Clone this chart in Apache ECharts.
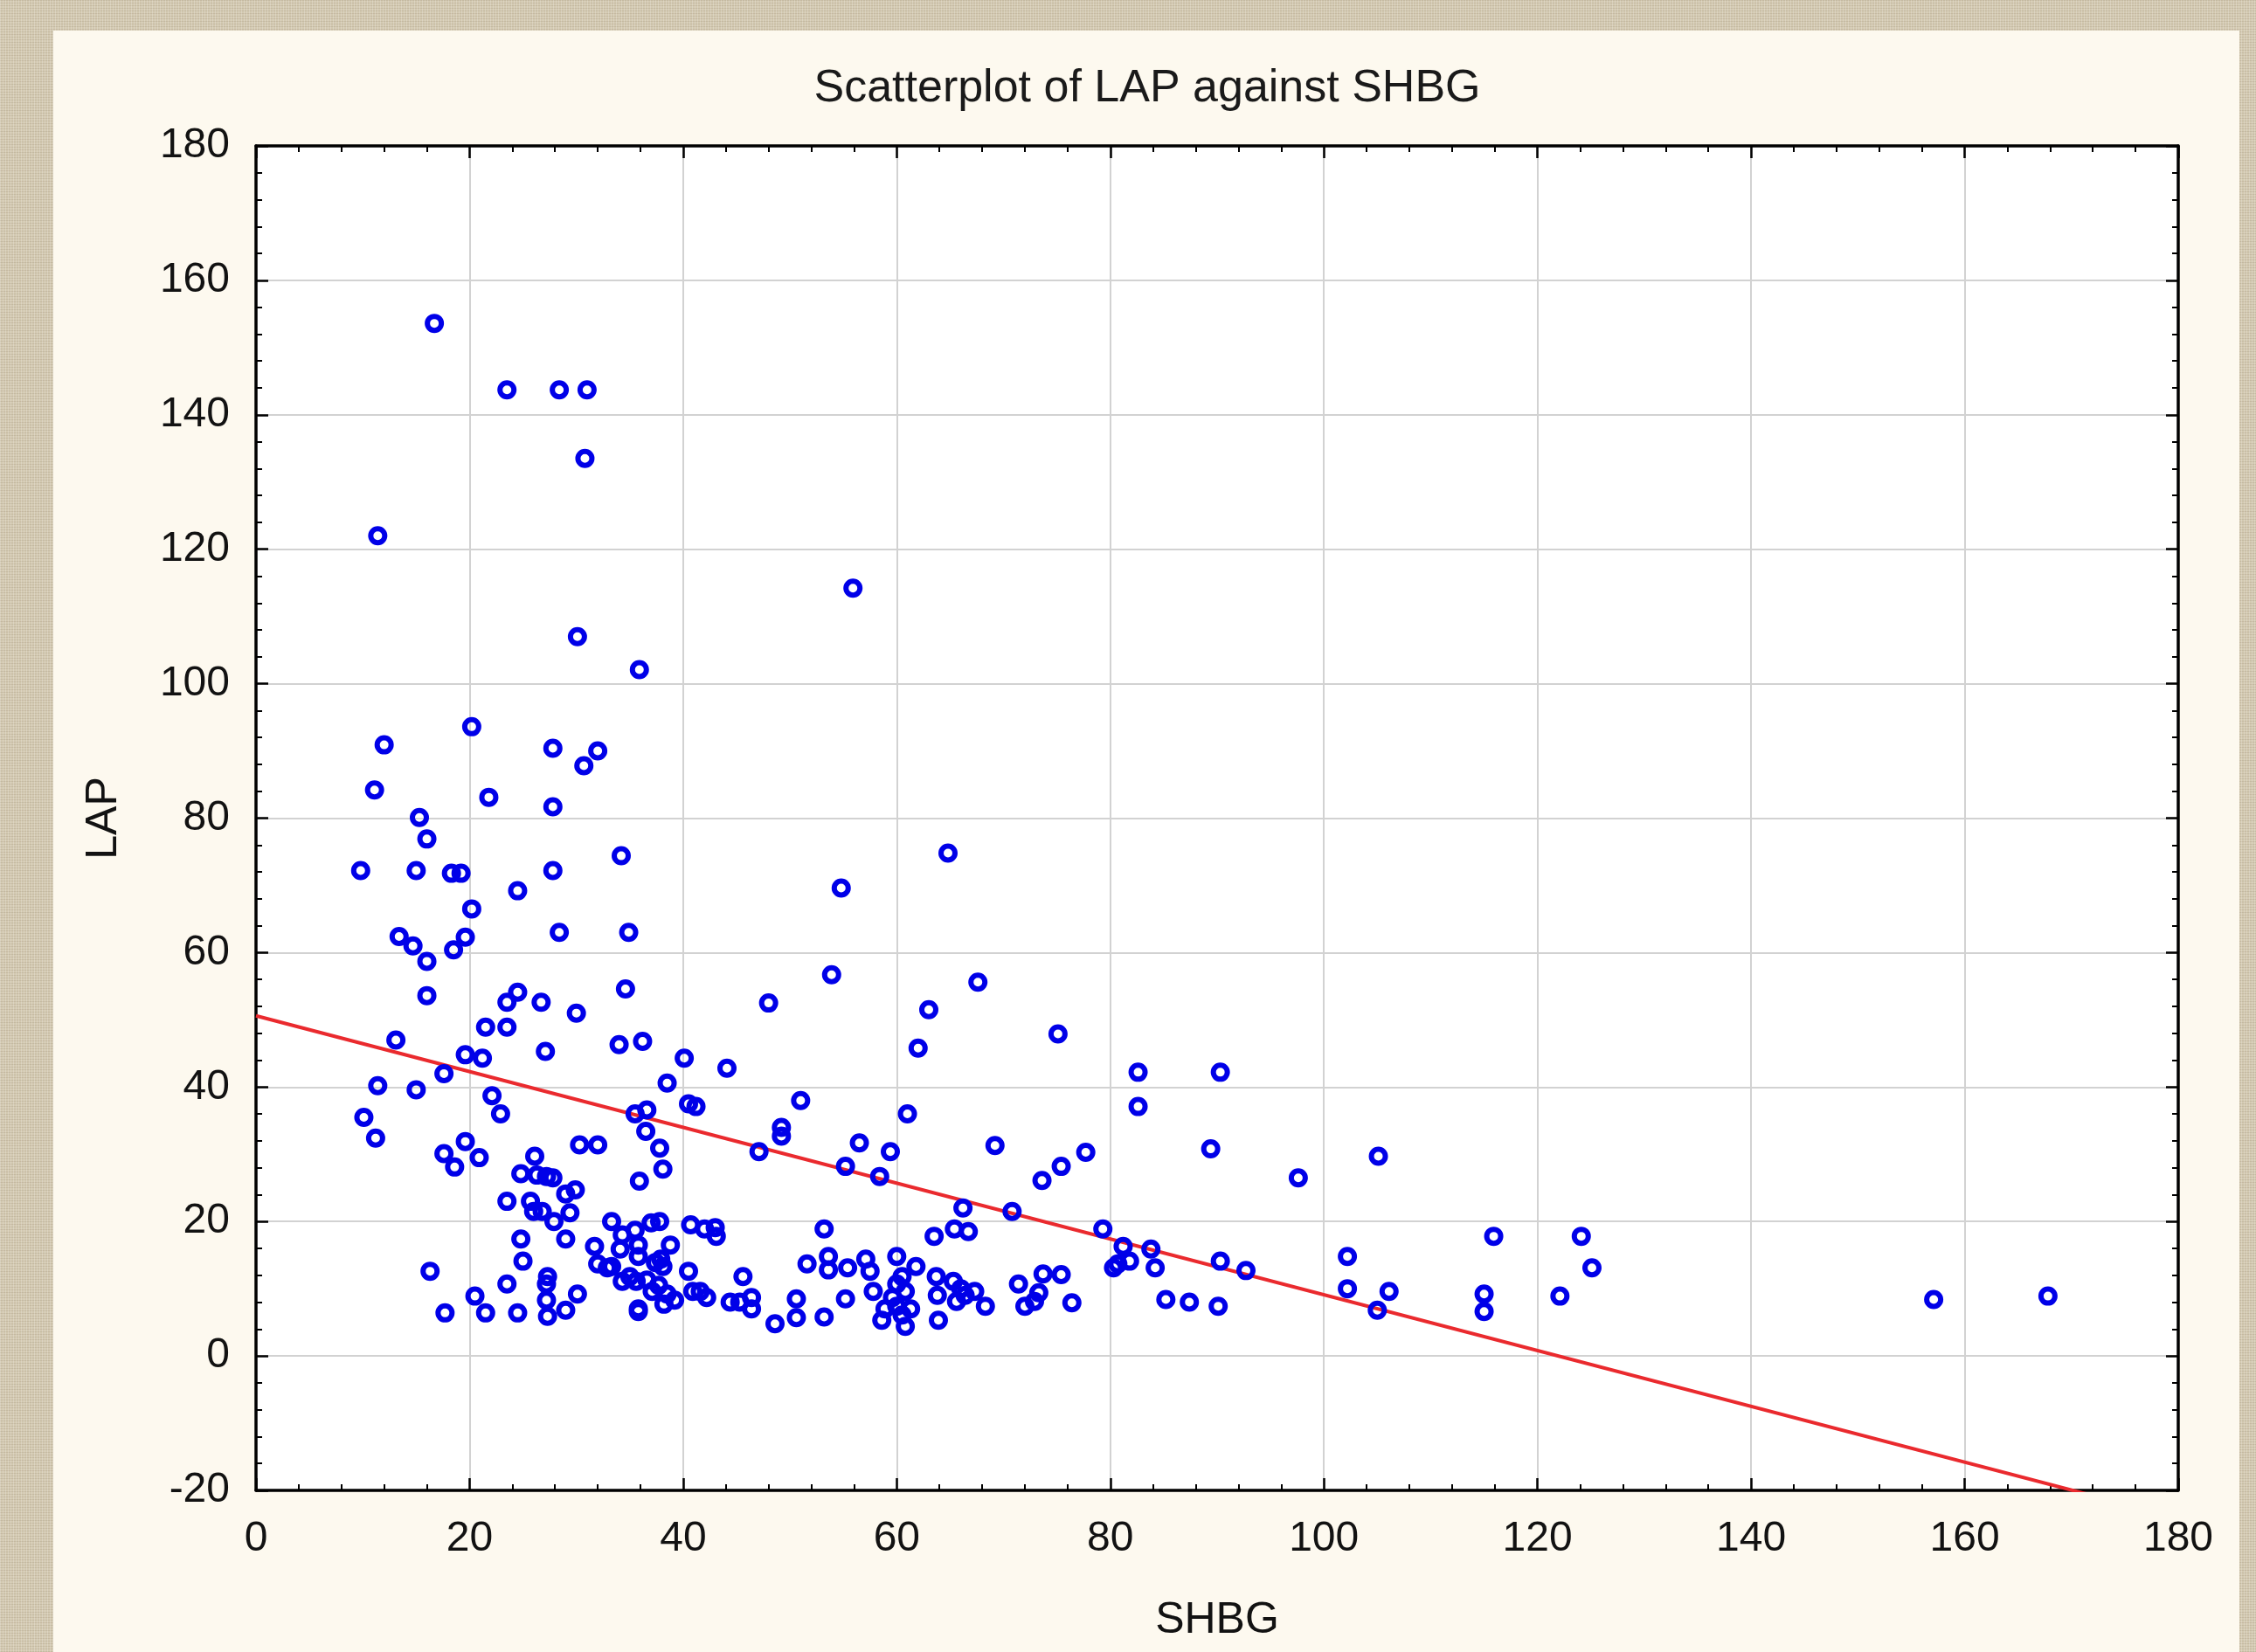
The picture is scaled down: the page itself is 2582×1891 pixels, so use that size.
<!DOCTYPE html>
<html>
<head>
<meta charset="utf-8">
<script src="https://cdn.jsdelivr.net/npm/echarts@6/dist/echarts.min.js"></script>
<style>
html,body{margin:0;padding:0;width:2582px;height:1891px;overflow:hidden;}
body{
  background-color:#d3c9b1;
  background-image:
    repeating-linear-gradient(90deg, rgba(255,255,255,0.22) 0 1px, rgba(0,0,0,0) 1px 3px),
    repeating-linear-gradient(0deg, rgba(110,90,60,0.14) 0 1px, rgba(0,0,0,0) 1px 3px);
}
#panel{position:absolute;left:61px;top:35px;width:2502px;height:1856px;background:#fdf9ef;}
#chart{position:absolute;left:0;top:0;width:2582px;height:1891px;}
</style>
</head>
<body>
<div id="panel"></div>
<div id="chart"></div>
<script>
const titleText = 'Scatterplot of LAP against SHBG';
const xName = 'SHBG';
const yName = 'LAP';
const xTicks = [0, 20, 40, 60, 80, 100, 120, 140, 160, 180];
const yTicks = [-20, 0, 20, 40, 60, 80, 100, 120, 140, 160, 180];

const shbg = [
  16.7, 23.5, 28.4, 31.0, 30.8, 11.4, 55.9, 30.1, 35.9,
  20.2, 12.0, 27.8, 32.0, 30.7, 11.1, 21.8, 27.8, 15.3, 16.0, 34.2, 9.8, 15.0, 18.3, 19.2, 27.8, 24.5, 20.2, 28.4, 34.9, 13.4, 14.7, 19.6, 18.5, 54.8, 64.8,
  16.0, 16.0, 13.1, 24.5, 23.5, 26.7, 30.0, 34.6, 21.5, 23.5, 19.6, 21.2, 27.1, 34.0, 36.2, 40.1, 17.6, 11.4, 15.0, 22.1, 22.9, 38.5, 40.5, 41.2, 10.1, 11.2, 35.5, 36.6, 36.5, 37.8, 30.3, 32.0, 19.6, 17.6, 20.9, 26.1,
  18.6, 38.1, 35.9, 24.8, 26.3, 27.2, 27.8, 23.5, 25.7, 26.0, 26.8, 27.9, 29.0, 29.9, 29.4, 29.0, 24.8, 25.0, 16.3, 23.5, 20.5, 21.5, 17.7, 24.5, 27.3, 27.2, 27.2, 27.3, 29.0, 30.1,
  33.3, 31.7, 32.0, 32.9, 34.3, 34.1, 34.3, 35.5, 35.8, 35.8, 35.6, 37.0, 37.8, 37.4, 38.1, 38.8, 37.7, 38.5, 39.2, 35.8, 35.8, 40.5, 40.9, 40.7, 37.9, 37.1, 38.2, 35.0, 36.6, 33.3,
  53.9, 48.0, 67.6, 63.0, 62.0, 44.1, 51.0, 61.0, 49.2, 49.2, 47.1, 56.5, 59.4, 69.2, 55.2,
  58.4, 73.6, 66.2, 70.8, 63.5, 65.4, 66.7, 53.2, 42.0, 43.0, 43.1, 41.6, 42.2, 45.6, 44.4, 46.4, 46.4, 45.3, 48.6, 50.6, 50.6, 53.2, 55.2, 51.6, 53.6, 53.6, 55.4, 57.1,
  57.5, 57.8, 60.0, 61.8, 60.5, 60.0, 60.8, 58.9, 58.6, 60.0, 60.5, 61.3, 60.8, 59.6, 63.7, 63.8, 63.9, 65.3, 66.0, 65.6, 66.4, 67.3, 68.3, 71.4, 72.0, 72.9, 73.3, 73.7,
  75.1, 82.6, 90.3, 82.6, 77.7, 75.4, 89.4, 97.6, 105.1, 79.3, 81.2, 83.8, 81.8, 80.3, 80.7, 84.2, 90.3, 92.7, 102.2, 102.2, 106.1, 105.0, 85.2, 87.4, 90.1, 75.4, 76.4,
  115.0, 115.0, 115.9, 124.1, 125.1, 122.1, 157.1, 167.8
];
const lap = [
  153.6, 143.7, 143.7, 143.7, 133.5, 122.0, 114.2, 107.0, 102.1,
  93.6, 90.9, 90.4, 90.0, 87.8, 84.2, 83.1, 81.7, 80.1, 76.9, 74.4, 72.2, 72.2, 71.8, 71.8, 72.2, 69.2, 66.5, 63.0, 63.0, 62.4, 61.0, 62.3, 60.4, 69.6, 74.8,
  58.7, 53.6, 47.0, 54.1, 52.6, 52.6, 51.0, 54.6, 48.9, 48.9, 44.8, 44.3, 45.3, 46.3, 46.8, 44.3, 42.0, 40.2, 39.6, 38.7, 36.0, 40.6, 37.5, 37.1, 35.5, 32.4, 36.0, 36.6, 33.4, 30.9, 31.4, 31.4, 31.9, 30.1, 29.5, 29.7,
  28.1, 27.8, 26.0, 27.1, 26.9, 26.7, 26.5, 23.0, 23.0, 21.5, 21.5, 20.0, 24.1, 24.7, 21.3, 17.4, 17.4, 14.1, 12.6, 10.7, 8.9, 6.4, 6.4, 6.4, 11.8, 10.7, 8.3, 5.9, 6.8, 9.2,
  20.0, 16.3, 13.7, 13.1, 18.0, 15.9, 11.1, 18.7, 16.5, 14.8, 11.1, 19.8, 20.0, 13.9, 13.3, 16.5, 10.5, 9.2, 8.3, 6.6, 7.0, 12.6, 9.6, 19.5, 14.4, 9.6, 7.7, 11.8, 11.3, 13.3,
  56.7, 52.5, 55.6, 51.5, 45.8, 42.8, 38.0, 36.0, 34.0, 32.7, 30.4, 31.7, 30.4, 31.3, 28.2,
  26.7, 26.1, 22.0, 21.5, 17.8, 18.9, 18.5, 18.9, 18.9, 19.1, 17.8, 9.6, 8.7, 11.8, 8.0, 8.7, 7.0, 8.0, 4.8, 8.5, 5.7, 5.8, 8.5, 13.7, 14.8, 12.8, 13.1, 14.4,
  12.6, 9.6, 14.8, 13.3, 11.8, 10.7, 9.6, 7.0, 5.3, 7.4, 6.1, 7.0, 4.4, 8.7, 11.8, 9.0, 5.3, 11.1, 10.0, 8.1, 9.0, 9.6, 7.4, 10.7, 7.4, 8.1, 9.4, 12.2,
  47.9, 42.2, 42.2, 37.1, 30.3, 28.2, 30.8, 26.5, 29.7, 18.9, 16.3, 15.9, 14.1, 13.1, 13.7, 13.1, 14.1, 12.7, 14.8, 10.0, 9.6, 6.8, 8.4, 8.0, 7.4, 12.1, 7.9,
  9.2, 6.6, 17.8, 17.8, 13.1, 8.9, 8.4, 8.9
];

// fitted regression line: LAP = fitIntercept + fitSlope * SHBG
const fitIntercept = 50.6;
const fitSlope = -0.415;

const points = shbg.map((x, i) => [x, lap[i]]);
const xMin = xTicks[0], xMax = xTicks[xTicks.length - 1], xStep = xTicks[1] - xTicks[0];
const yMin = yTicks[0], yMax = yTicks[yTicks.length - 1], yStep = yTicks[1] - yTicks[0];
const fitLine = [[xMin, fitIntercept + fitSlope * xMin], [xMax, fitIntercept + fitSlope * xMax]];

const FONT = '"Liberation Sans", Arial, sans-serif';
const axisLine = { show: true, onZero: false, lineStyle: { color: '#000', width: 3.5 } };
const axisTick = { show: true, inside: true, length: 14, lineStyle: { color: '#000', width: 2.5 } };
const minorTick = { show: true, splitNumber: 5, length: 7, lineStyle: { color: '#000', width: 2 } };
const splitLine = { show: true, lineStyle: { color: '#d2d2d2', width: 2 } };
const labelStyle = { fontFamily: FONT, fontSize: 48, color: '#121212' };

const chart = echarts.init(document.getElementById('chart'), null, { renderer: 'canvas' });
chart.setOption({
  backgroundColor: 'transparent',
  animation: false,
  graphic: [{
    type: 'text', x: 1313, y: 102,
    style: { text: titleText, fontFamily: FONT, fontSize: 52, fill: '#1a1a1a', align: 'center', verticalAlign: 'middle' }
  }],
  grid: {
    left: 293, right: 89, top: 167, bottom: 185,
    containLabel: false, outerBoundsMode: 'none',
    show: true, backgroundColor: '#ffffff', borderWidth: 0
  },
  xAxis: [{
    type: 'value', position: 'bottom', min: xMin, max: xMax, interval: xStep,
    name: xName, nameLocation: 'middle', nameGap: 124,
    nameTextStyle: { fontFamily: FONT, fontSize: 50, color: '#121212' },
    axisLine, axisTick, minorTick, splitLine,
    axisLabel: Object.assign({ margin: 32 }, labelStyle)
  }, {
    type: 'value', position: 'top', min: xMin, max: xMax, interval: xStep,
    axisLine, axisTick, minorTick, splitLine: { show: false }, axisLabel: { show: false }
  }],
  yAxis: [{
    type: 'value', position: 'left', min: yMin, max: yMax, interval: yStep,
    name: yName, nameLocation: 'middle', nameGap: 149,
    nameTextStyle: { fontFamily: FONT, fontSize: 50, color: '#121212' },
    axisLine, axisTick, minorTick, splitLine,
    axisLabel: Object.assign({ margin: 30 }, labelStyle)
  }, {
    type: 'value', position: 'right', min: yMin, max: yMax, interval: yStep,
    axisLine, axisTick, minorTick, splitLine: { show: false }, axisLabel: { show: false }
  }],
  series: [{
    type: 'line', xAxisIndex: 0, yAxisIndex: 0, data: fitLine,
    showSymbol: false, symbol: 'none', clip: true, z: 2,
    lineStyle: { color: '#ea2a2e', width: 4 }
  }, {
    type: 'scatter', xAxisIndex: 0, yAxisIndex: 0, data: points,
    symbol: 'circle', symbolSize: 16, z: 3,
    itemStyle: { color: 'rgba(0,0,0,0)', borderColor: '#0000e8', borderWidth: 6, opacity: 1 }
  }]
});
</script>
</body>
</html>
